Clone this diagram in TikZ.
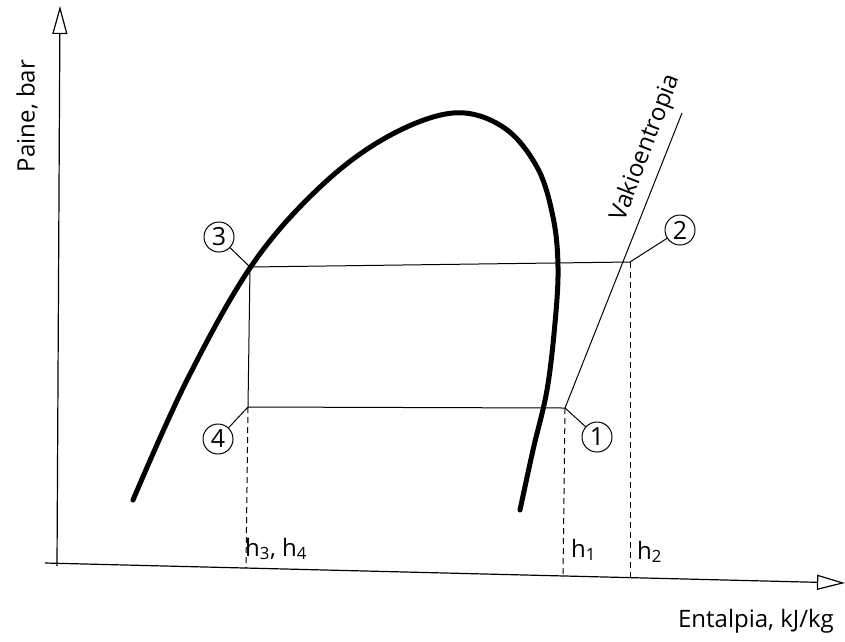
\documentclass[tikz,border=0pt]{standalone}
\usepackage{fontspec}
\setmainfont{Open Sans}
\usetikzlibrary{arrows.meta}
\begin{document}
\begin{tikzpicture}[x=1pt,y=-1pt,
  thin line/.style={line width=1pt,black},
  dashline/.style={line width=1pt,dash pattern=on 6pt off 4pt},
  axisline/.style={line width=1.2pt,-{Triangle[open,length=28pt,width=15pt,line width=1.2pt]}},
  statecirc/.style={circle,draw,line width=1pt,minimum size=30pt,inner sep=0pt,font=\fontsize{25}{26}\selectfont},
  lbl/.style={font=\fontsize{24}{28}\selectfont,inner sep=1pt}]
\useasboundingbox (0,0) rectangle (845,641);
% axes
\coordinate (yo) at (57,566);
\coordinate (yt) at (60,6);
\coordinate (xo) at (45,563);
\coordinate (xt) at (845,583);
\draw[axisline] (yo) -- (yt);
\draw[axisline] (xo) -- (xt);
\node[lbl,rotate=90] (ylab) at (27,116) {Paine, bar};
\node[lbl] (xlab) at (756,621) {Entalpia, kJ/kg};
% saturation dome
\draw[line width=5pt,line cap=round] plot[smooth,tension=0.6] coordinates {
 (133,500) (187,380) (252,265) (320,187) (387,137) (453,113) (503,127) (537,167) (553,217) (558,267) (555,323) (547,390) (533,450) (520,510)};
% cycle
\coordinate (p3) at (250,267);
\coordinate (p2) at (630,262);
\coordinate (p4) at (248,407);
\coordinate (p1) at (565,408);
\coordinate (iso) at (682,113);
\draw[thin line] (p3) -- (p2);
\draw[thin line] (p4) -- (p1);
\draw[thin line] (p3) -- (p4);
\draw[thin line] (p1) -- (iso);
% dashed verticals
\coordinate (b4) at (246,568);
\coordinate (b1) at (563,578);
\coordinate (b2) at (630,580);
\draw[dashline] (p4) -- (b4);
\draw[dashline] (p1) -- (b1);
\draw[dashline] (p2) -- (b2);
% state circles
\node[statecirc] (c3) at (219,237) {3};
\node[statecirc] (c4) at (218,439) {4};
\node[statecirc] (c1) at (597,437) {1};
\node[statecirc] (c2) at (680,230) {2};
\draw[thin line] (c3) -- (p3);
\draw[thin line] (c4) -- (p4);
\draw[thin line] (c1) -- (p1);
\draw[thin line] (c2) -- (p2);
% labels
\node[lbl,rotate=69] (vak) at (646,148) {Vakioentropia};
\node[lbl,anchor=west] (h34) at (244,549) {h\textsubscript{3}, h\textsubscript{4}};
\node[lbl,anchor=west] (h1) at (570,550) {h\textsubscript{1}};
\node[lbl,anchor=west] (h2) at (636,552) {h\textsubscript{2}};
\end{tikzpicture}
\end{document}
